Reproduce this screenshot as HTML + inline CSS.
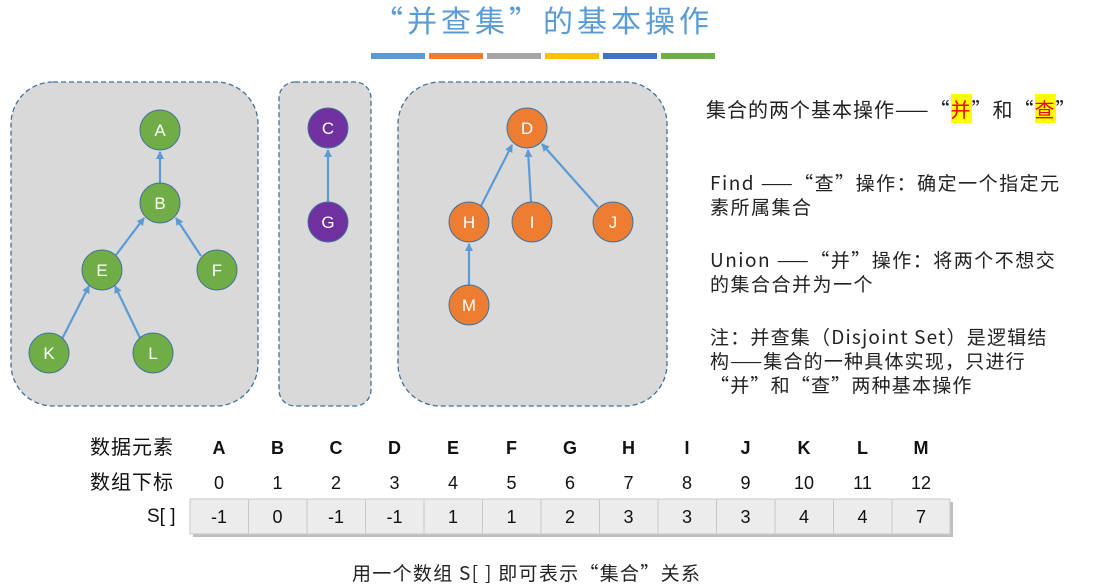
<!DOCTYPE html>
<html><head><meta charset="utf-8"><style>
body{margin:0;background:#fff;}
svg text{font-family:"Liberation Sans","Noto Sans CJK SC",sans-serif;}
.t{position:absolute;font-family:"Noto Sans CJK SC",sans-serif;color:#222;white-space:nowrap;}
.hl{background:#ffff00;color:#e00;}
</style></head><body>
<div style="position:relative;width:1113px;height:585px;overflow:hidden">
<svg width="1113" height="585" xmlns="http://www.w3.org/2000/svg" style="position:absolute;left:0;top:0">
<defs><marker id="ar" markerWidth="8" markerHeight="8" refX="7" refY="4" orient="auto" markerUnits="userSpaceOnUse"><path d="M0,0 L8,4 L0,8 z" fill="#5b9bd5"/></marker></defs>
<rect x="371" y="53" width="54" height="6" fill="#5b9bd5"/>
<rect x="429" y="53" width="54" height="6" fill="#ed7d31"/>
<rect x="487" y="53" width="54" height="6" fill="#a5a5a5"/>
<rect x="545" y="53" width="54" height="6" fill="#ffc000"/>
<rect x="603" y="53" width="54" height="6" fill="#4472c4"/>
<rect x="661" y="53" width="54" height="6" fill="#70ad47"/>
<g fill="#d9d9d9" stroke="#41719c" stroke-width="1.3" stroke-dasharray="5,3">
<rect x="11" y="82" width="247" height="324" rx="42"/>
<rect x="279" y="82" width="92" height="324" rx="16"/>
<rect x="398" y="82" width="269" height="324" rx="42"/>
</g>
<g stroke="#5b9bd5" stroke-width="2.2" marker-end="url(#ar)">
<line x1="160" y1="183" x2="160" y2="152"/>
<line x1="116" y1="255" x2="144" y2="218"/>
<line x1="201" y1="256" x2="176" y2="218"/>
<line x1="62" y1="339" x2="89" y2="286"/>
<line x1="140" y1="338" x2="115" y2="286"/>
<line x1="328" y1="202" x2="328" y2="150"/>
<line x1="481" y1="206" x2="512" y2="145"/>
<line x1="531" y1="202" x2="528" y2="150"/>
<line x1="598" y1="207" x2="542" y2="144"/>
<line x1="469" y1="285" x2="469" y2="244"/>
</g>
<g stroke="#41719c" stroke-width="1">
<g fill="#70ad47">
<circle cx="160" cy="130" r="20"/><circle cx="160" cy="203" r="20"/><circle cx="102" cy="270" r="20"/><circle cx="217" cy="270" r="20"/><circle cx="49" cy="353" r="20"/><circle cx="153" cy="353" r="20"/>
</g>
<g fill="#7030a0"><circle cx="328" cy="128" r="20"/><circle cx="328" cy="222" r="20"/></g>
<g fill="#ed7d31"><circle cx="527" cy="128" r="20"/><circle cx="469" cy="222" r="20"/><circle cx="532" cy="222" r="20"/><circle cx="613" cy="222" r="20"/><circle cx="469" cy="305" r="20"/></g>
</g>
<g fill="#fff" font-size="17" text-anchor="middle">
<text x="160" y="136">A</text><text x="160" y="209">B</text><text x="102" y="276">E</text><text x="217" y="276">F</text><text x="49" y="359">K</text><text x="153" y="359">L</text>
<text x="328" y="134">C</text><text x="328" y="228">G</text>
<text x="527" y="134">D</text><text x="469" y="228">H</text><text x="532" y="228">I</text><text x="613" y="228">J</text><text x="469" y="311">M</text>
</g>
<rect x="193" y="502" width="760" height="35" fill="#bfbfbf"/>
<rect x="190" y="499" width="760" height="35" fill="#ececec" stroke="#c8c8c8" stroke-width="1"/>
<g stroke="#c8c8c8">
<line x1="248.5" y1="499" x2="248.5" y2="534"/><line x1="307" y1="499" x2="307" y2="534"/><line x1="365.5" y1="499" x2="365.5" y2="534"/><line x1="424" y1="499" x2="424" y2="534"/><line x1="482.5" y1="499" x2="482.5" y2="534"/><line x1="541" y1="499" x2="541" y2="534"/><line x1="599.5" y1="499" x2="599.5" y2="534"/><line x1="658" y1="499" x2="658" y2="534"/><line x1="716.5" y1="499" x2="716.5" y2="534"/><line x1="775" y1="499" x2="775" y2="534"/><line x1="833.5" y1="499" x2="833.5" y2="534"/><line x1="892" y1="499" x2="892" y2="534"/>
</g>
<g font-size="18" fill="#111" text-anchor="middle" font-weight="bold">
<text x="219" y="454">A</text><text x="277.5" y="454">B</text><text x="336" y="454">C</text><text x="394.5" y="454">D</text><text x="453" y="454">E</text><text x="511.5" y="454">F</text><text x="570" y="454">G</text><text x="628.5" y="454">H</text><text x="687" y="454">I</text><text x="745.5" y="454">J</text><text x="804" y="454">K</text><text x="862.5" y="454">L</text><text x="921" y="454">M</text>
</g>
<g font-size="18" fill="#111" text-anchor="middle">
<text x="219" y="489">0</text><text x="277.5" y="489">1</text><text x="336" y="489">2</text><text x="394.5" y="489">3</text><text x="453" y="489">4</text><text x="511.5" y="489">5</text><text x="570" y="489">6</text><text x="628.5" y="489">7</text><text x="687" y="489">8</text><text x="745.5" y="489">9</text><text x="804" y="489">10</text><text x="862.5" y="489">11</text><text x="921" y="489">12</text>
<text x="219" y="523">-1</text><text x="277.5" y="523">0</text><text x="336" y="523">-1</text><text x="394.5" y="523">-1</text><text x="453" y="523">1</text><text x="511.5" y="523">1</text><text x="570" y="523">2</text><text x="628.5" y="523">3</text><text x="687" y="523">3</text><text x="745.5" y="523">3</text><text x="804" y="523">4</text><text x="862.5" y="523">4</text><text x="921" y="523">7</text>
</g>
</svg>
<div class="t" style="left:373px;top:-3px;font-size:30px;letter-spacing:4px;color:#5b9bd5;line-height:44px">“并查集”的基本操作</div>
<div class="t" style="left:706px;top:95px;font-size:20px;letter-spacing:1px;line-height:28px">集合的两个基本操作——“<span class="hl">并</span>”和“<span class="hl">查</span>”</div>
<div class="t" style="left:710px;top:171px;font-size:19px;line-height:24px;letter-spacing:1.5px">Find ——“查”操作：确定一个指定元<br>素所属集合</div>
<div class="t" style="left:710px;top:248px;font-size:19px;line-height:24px;letter-spacing:1.5px">Union ——“并”操作：将两个不想交<br>的集合合并为一个</div>
<div class="t" style="left:710px;top:325px;font-size:19px;line-height:24px;letter-spacing:1.2px">注：并查集（Disjoint Set）是逻辑结<br>构——集合的一种具体实现，只进行<br>“并”和“查”两种基本操作</div>
<div class="t" style="left:90px;top:432px;font-size:20px;line-height:28px;letter-spacing:1px;color:#111">数据元素</div>
<div class="t" style="left:90px;top:467px;font-size:20px;line-height:28px;letter-spacing:1px;color:#111">数组下标</div>
<div class="t" style="left:147px;top:503px;font-size:19px;line-height:28px;color:#111;font-family:'Liberation Sans',sans-serif">S[ ]</div>
<div class="t" style="left:352px;top:559px;font-size:19px;line-height:28px;letter-spacing:1.3px">用一个数组 S[ ] 即可表示“集合”关系</div>
</div>
</body></html>
